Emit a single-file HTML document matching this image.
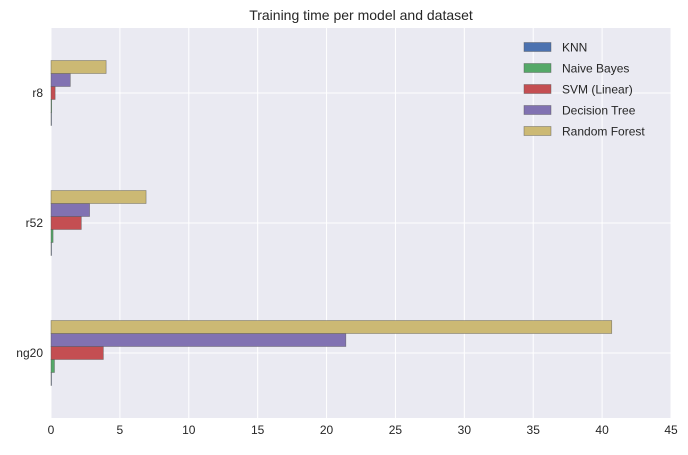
<!DOCTYPE html>
<html><head><meta charset="utf-8"><style>
body{margin:0;background:#fff;font-family:"Liberation Sans",Arial,sans-serif;}
svg text{font-family:"Liberation Sans",Arial,sans-serif;}
</style></head><body>
<svg id="chart" width="688" height="450" xmlns="http://www.w3.org/2000/svg"></svg>
<script>
const categories=["r8","r52","ng20"];
const models=["KNN","Naive Bayes","SVM (Linear)","Decision Tree","Random Forest"];
const knn=[0.01,0.02,0.03];
const naiveBayes=[0.05,0.15,0.25];
const svm=[0.3,2.2,3.8];
const decisionTree=[1.4,2.8,21.4];
const randomForest=[4.0,6.9,40.7];
const xTicks=[0,5,10,15,20,25,30,35,40,45];
const colors=["#4C72B0","#55A868","#C44E52","#8172B2","#CCB974"];
const series=[knn,naiveBayes,svm,decisionTree,randomForest];
const NS="http://www.w3.org/2000/svg";
const svg=document.getElementById('chart');
const L=51,R=671,T=28,B=418;
const x=v=>L+(v-0)/(45-0)*(R-L);
const band=(B-T)/categories.length;
const yc=i=>T+band*(i+0.5);
function mk(tag,attrs,parent){const e=document.createElementNS(NS,tag);for(const k in attrs)e.setAttribute(k,attrs[k]);(parent||svg).appendChild(e);return e;}
const bg=mk('rect',{x:L,y:T,width:R-L,height:B-T,fill:'#EAEAF2'});


xTicks.forEach(t=>{
  const g=mk('line',{x1:x(t),x2:x(t),y1:T,y2:B,stroke:'#fff','stroke-width':1});
  
  
  const lb=mk('text',{x:x(t),y:B+16,'text-anchor':'middle','font-size':12,fill:'#262626'});
  lb.textContent=t;
  
  
});
categories.forEach((c,i)=>{
  const g=mk('line',{x1:L,x2:R,y1:yc(i),y2:yc(i),stroke:'#fff','stroke-width':1});
  
  
  const lb=mk('text',{x:L-8,y:yc(i)+4,'text-anchor':'end','font-size':12,fill:'#262626'});
  lb.textContent=c;
  
  
});
const bh=band*0.1;
categories.forEach((c,i)=>{
  series.forEach((s,j)=>{
    // KNN bottom, RF top
    const top=yc(i)+band*0.25-bh*(j+1);
    const r=mk('rect',{x:x(0),y:top,width:Math.max(x(s[i])-x(0),0.5),height:bh,fill:colors[j],stroke:'#555','stroke-width':0.6,'stroke-opacity':0.7});
    
    
  });
});
const title=mk('text',{x:(L+R)/2,y:20,'text-anchor':'middle','font-size':14,fill:'#262626'});
title.textContent='Training time per model and dataset';


models.forEach((m,j)=>{
  const cy=47+21*j;
  const p=mk('rect',{x:524,y:cy-4.5,width:27,height:9,fill:colors[j],stroke:'#555','stroke-width':0.6,'stroke-opacity':0.7});
  
  
  const t=mk('text',{x:562,y:cy+4.5,'font-size':12,fill:'#262626'});
  t.textContent=m;
  
  
});
</script>
</body></html>
